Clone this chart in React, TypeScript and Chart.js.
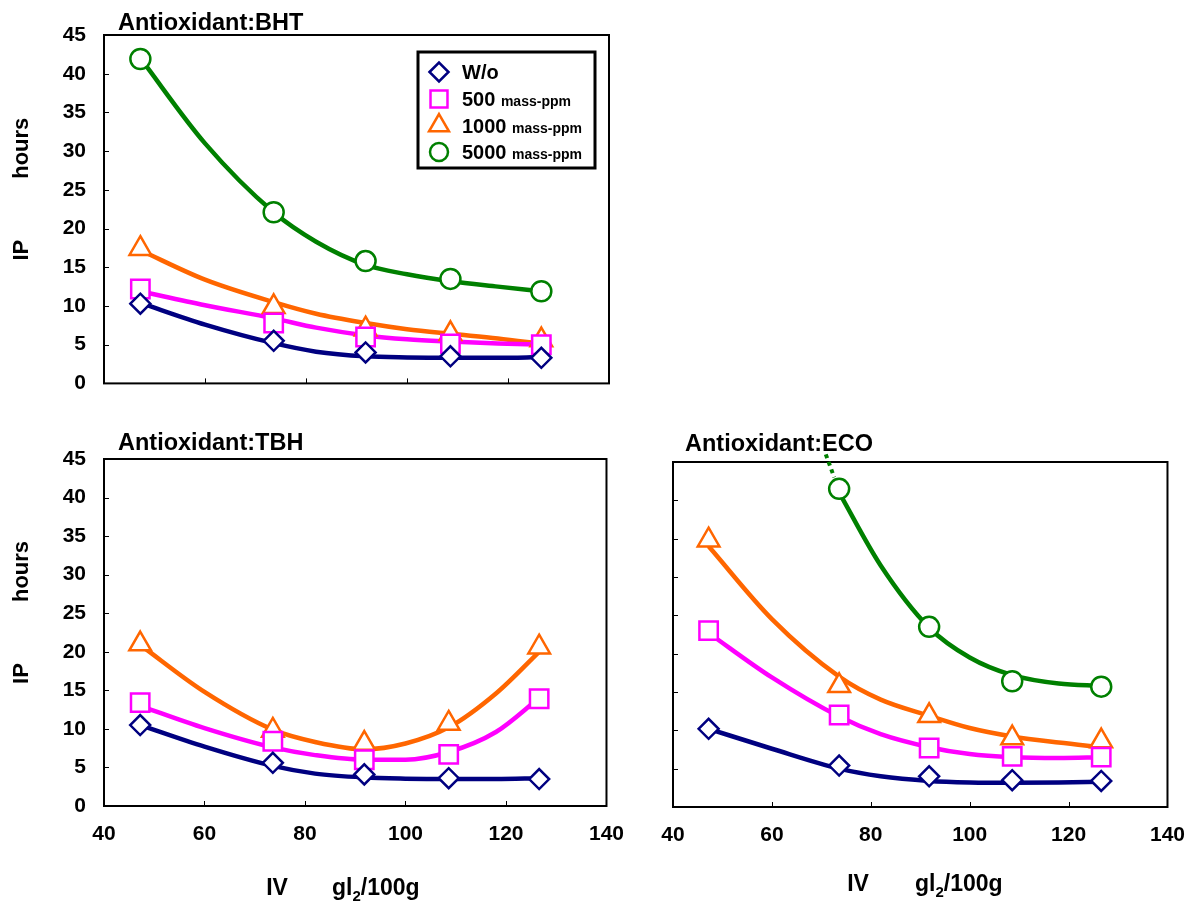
import React, { useEffect, useRef } from "react";
import { Chart, registerables } from "chart.js";
import { drawPoint } from "chart.js/helpers";

Chart.register(...registerables);

// ---------- data ----------
const IV = [47.2, 73.6, 91.8, 108.6, 126.6];
const fitX = [47.2, 60, 73.6, 82, 91.8, 100, 108.6, 118, 126.6];
const xTickValues = [40, 60, 80, 100, 120, 140];
const yTickValues = [0, 5, 10, 15, 20, 25, 30, 35, 40, 45];

const seriesNames = ["W/o", "500", "1000", "5000"];
const seriesUnits = ["", "mass-ppm", "mass-ppm", "mass-ppm"];

// BHT
const bhtWo = [10.3, 5.5, 4.0, 3.5, 3.3];
const bht500 = [12.2, 7.8, 6.0, 5.1, 5.0];
const bht1000 = [17.4, 9.9, 7.0, 6.4, 5.6];
const bht5000 = [41.9, 22.1, 15.8, 13.5, 11.9];
const bhtWoFit = [10.4, 7.6, 5.2, 4.1, 3.5, 3.35, 3.3, 3.3, 3.4];
const bht500Fit = [11.9, 10.1, 8.4, 7.2, 6.2, 5.7, 5.4, 5.15, 5.0];
const bht1000Fit = [17.2, 13.4, 10.5, 9.0, 7.8, 7.0, 6.4, 5.8, 5.1];
const bht5000Fit = [42.0, 31.0, 22.1, 18.3, 15.3, 14.1, 13.2, 12.5, 11.9];

// TBH
const tbhWo = [10.5, 5.6, 4.1, 3.6, 3.5];
const tbh500 = [13.4, 8.4, 6.0, 6.7, 13.9];
const tbh1000 = [21.0, 9.8, 8.1, 10.7, 20.6];
const tbhWoFit = [10.5, 7.7, 5.2, 4.2, 3.7, 3.55, 3.5, 3.5, 3.6];
const tbh500Fit = [13.0, 10.1, 7.6, 6.6, 6.0, 6.0, 7.0, 9.6, 14.0];
const tbh1000Fit = [20.9, 14.8, 9.9, 8.3, 7.35, 8.1, 10.2, 14.6, 20.0];

// ECO
const ecoWo = [10.2, 5.4, 4.0, 3.5, 3.4];
const eco500 = [23.0, 12.0, 7.7, 6.6, 6.5];
const eco1000 = [34.8, 15.8, 11.9, 9.0, 8.6];
const eco5000 = [null, 41.5, 23.5, 16.4, 15.7];
const ecoWoFit = [10.2, 7.6, 5.0, 4.0, 3.4, 3.2, 3.15, 3.2, 3.3];
const eco500Fit = [22.7, 16.9, 11.8, 9.5, 7.8, 6.9, 6.5, 6.4, 6.5];
const eco1000Fit = [34.0, 24.5, 17.0, 14.0, 11.9, 10.3, 9.2, 8.4, 7.8];
const eco5000Fit = [null, null, 41.0, 31.5, 23.4, 19.5, 17.2, 16.1, 15.8];
const ecoDottedX = [70.9, 72.6];
const ecoDottedY = [46.0, 43.0];

// ---------- styles ----------
const COLORS = ["#000080", "#ff00ff", "#ff6600", "#008000"];
const STYLES = ["rectRot", "rect", "triangle", "circle"];
const RADII = [10, 13, 12.5, 10];
const LEGEND_RADII = [9.5, 12, 11.5, 9];
const FONT = '"Liberation Sans", Arial, sans-serif';

type Panel = {
  key: string;
  title: string;
  left: number;
  top: number;
  width: number;
  height: number;
  padTop: number;
  axisLeft: number;
  axisBottom: number;
  padRight: number;
  markers: (number | null)[][];
  fits: (number | null)[][];
  yLabels: boolean;
  xLabels: boolean;
  yTitle: boolean;
  xTitle: { iv: number; gl: number; base: number } | null;
  titleX: number;
  titleBase: number;
  legend: boolean;
  dotted: boolean;
};

const panels: Panel[] = [
  {
    key: "bht",
    title: "Antioxidant:BHT",
    left: 0,
    top: 0,
    width: 640,
    height: 414,
    padTop: 35,
    axisLeft: 104,
    axisBottom: 17,
    padRight: 31,
    markers: [bhtWo, bht500, bht1000, bht5000],
    fits: [bhtWoFit, bht500Fit, bht1000Fit, bht5000Fit],
    yLabels: true,
    xLabels: false,
    yTitle: true,
    xTitle: null,
    titleX: 118,
    titleBase: 30,
    legend: true,
    dotted: false,
  },
  {
    key: "tbh",
    title: "Antioxidant:TBH",
    left: 0,
    top: 420,
    width: 640,
    height: 484,
    padTop: 39,
    axisLeft: 104,
    axisBottom: 98,
    padRight: 31,
    markers: [tbhWo, tbh500, tbh1000],
    fits: [tbhWoFit, tbh500Fit, tbh1000Fit],
    yLabels: true,
    xLabels: true,
    yTitle: true,
    xTitle: { iv: 277, gl: 332, base: 475 },
    titleX: 118,
    titleBase: 30,
    legend: false,
    dotted: false,
  },
  {
    key: "eco",
    title: "Antioxidant:ECO",
    left: 640,
    top: 420,
    width: 561,
    height: 484,
    padTop: 42,
    axisLeft: 33,
    axisBottom: 97,
    padRight: 26,
    markers: [ecoWo, eco500, eco1000, eco5000],
    fits: [ecoWoFit, eco500Fit, eco1000Fit, eco5000Fit],
    yLabels: false,
    xLabels: true,
    yTitle: false,
    xTitle: { iv: 218, gl: 275, base: 471 },
    titleX: 45,
    titleBase: 31,
    legend: false,
    dotted: true,
  },
];

function toPoints(xs: number[], ys: (number | null)[]) {
  const out: { x: number; y: number }[] = [];
  ys.forEach((y, i) => {
    if (y !== null && y !== undefined) out.push({ x: xs[i], y });
  });
  return out;
}

const decorPlugin = {
  id: "panelDecor",
  beforeDatasetsDraw(chart: any) {
    const ctx = chart.ctx;
    const a = chart.chartArea;
    const xs = chart.scales.x;
    const ys = chart.scales.y;
    ctx.save();
    ctx.strokeStyle = "#000";
    ctx.lineWidth = 2;
    ctx.strokeRect(a.left, a.top, a.right - a.left, a.bottom - a.top);
    ctx.lineWidth = 1;
    ctx.beginPath();
    xTickValues.slice(1, -1).forEach((v) => {
      const px = Math.round(xs.getPixelForValue(v)) + 0.5;
      ctx.moveTo(px, a.bottom);
      ctx.lineTo(px, a.bottom - 5);
    });
    yTickValues.slice(1, -1).forEach((v) => {
      const py = Math.round(ys.getPixelForValue(v)) + 0.5;
      ctx.moveTo(a.left, py);
      ctx.lineTo(a.left + 5, py);
    });
    ctx.stroke();
    ctx.restore();
  },
  afterDraw(chart: any, _args: any, opts: any) {
    const p: Panel = opts.panel;
    const ctx = chart.ctx;
    const a = chart.chartArea;
    ctx.save();
    ctx.fillStyle = "#000";
    // panel title
    ctx.font = `bold 23.5px ${FONT}`;
    ctx.textAlign = "left";
    ctx.textBaseline = "alphabetic";
    ctx.fillText(p.title, p.titleX, p.titleBase);

    // y title
    if (p.yTitle) {
      const mid = (a.top + a.bottom) / 2;
      ctx.font = `bold 22px ${FONT}`;
      ctx.textAlign = "center";
      ctx.textBaseline = "middle";
      const drawRot = (t: string, y: number) => {
        ctx.save();
        ctx.translate(22, y);
        ctx.rotate(-Math.PI / 2);
        ctx.fillText(t, 0, 0);
        ctx.restore();
      };
      drawRot("hours", mid - 61);
      drawRot("IP", mid + 41);
    }

    // x title
    if (p.xTitle) {
      const t = p.xTitle;
      ctx.textBaseline = "alphabetic";
      ctx.font = `bold 23px ${FONT}`;
      ctx.textAlign = "center";
      ctx.fillText("IV", t.iv, t.base);
      ctx.textAlign = "left";
      let x = t.gl;
      ctx.fillText("gl", x, t.base);
      x += ctx.measureText("gl").width;
      ctx.font = `bold 15px ${FONT}`;
      ctx.fillText("2", x, t.base + 6);
      x += ctx.measureText("2").width;
      ctx.font = `bold 23px ${FONT}`;
      ctx.fillText("/100g", x, t.base);
    }

    // legend
    if (p.legend) {
      const bx = 418, by = 52, bw = 177, bh = 116;
      ctx.fillStyle = "#fff";
      ctx.fillRect(bx, by, bw, bh);
      ctx.strokeStyle = "#000";
      ctx.lineWidth = 3;
      ctx.strokeRect(bx, by, bw, bh);
      const rows = [72, 99, 125.5, 152];
      seriesNames.forEach((name, i) => {
        const y = rows[i];
        ctx.strokeStyle = COLORS[i];
        ctx.fillStyle = "#fff";
        ctx.lineWidth = 2.5;
        drawPoint(ctx, { pointStyle: STYLES[i] as any, radius: LEGEND_RADII[i], rotation: 0, borderWidth: 2.5 } as any, 439, y);
        ctx.fillStyle = "#000";
        ctx.textAlign = "left";
        ctx.textBaseline = "alphabetic";
        ctx.font = `bold 20px ${FONT}`;
        ctx.fillText(name, 462, y + 7);
        if (seriesUnits[i]) {
          const w = ctx.measureText(name + " ").width;
          ctx.font = `bold 14px ${FONT}`;
          ctx.fillText(seriesUnits[i], 462 + w, y + 7);
        }
      });
    }
    ctx.restore();
  },
};

function PanelChart({ panel }: { panel: Panel }) {
  const ref = useRef<HTMLCanvasElement | null>(null);
  useEffect(() => {
    if (!ref.current) return;
    const p = panel;
    const datasets: any[] = [];
    p.fits.forEach((f, i) => {
      datasets.push({
        label: seriesNames[i] + " fit",
        data: toPoints(fitX, f),
        borderColor: COLORS[i],
        backgroundColor: COLORS[i],
        borderWidth: 4.5,
        pointRadius: 0,
        cubicInterpolationMode: "monotone",
        fill: false,
        order: 2,
      });
    });
    if (p.dotted) {
      datasets.push({
        label: "5000 extension",
        data: toPoints(ecoDottedX, ecoDottedY),
        borderColor: COLORS[3],
        borderWidth: 4,
        borderDash: [4, 4],
        pointRadius: 0,
        fill: false,
        clip: false,
        order: 2,
      });
    }
    p.markers.forEach((m, i) => {
      datasets.push({
        label: seriesNames[i],
        data: toPoints(IV, m),
        showLine: false,
        pointStyle: STYLES[i],
        pointRadius: RADII[i],
        pointBackgroundColor: "#ffffff",
        pointBorderColor: COLORS[i],
        pointBorderWidth: 2.5,
        borderColor: COLORS[i],
        backgroundColor: "#ffffff",
        order: 1,
      });
    });
    const tickFont = { family: FONT, size: 21, weight: "bold" as const };
    const chart = new Chart(ref.current, {
      type: "line",
      data: { datasets },
      plugins: [decorPlugin as any],
      options: {
        animation: false,
        responsive: false,
        devicePixelRatio: 1,
        events: [],
        layout: {
          autoPadding: false,
          padding: { left: 0, top: p.padTop, right: p.padRight, bottom: 0 },
        },
        plugins: {
          legend: { display: false },
          tooltip: { enabled: false },
          title: { display: false },
          panelDecor: { panel: p },
        } as any,
        scales: {
          x: {
            type: "linear",
            min: 40,
            max: 140,
            grid: { display: false, drawTicks: false },
            border: { display: false },
            ticks: {
              display: p.xLabels,
              stepSize: 20,
              padding: 16,
              color: "#000",
              font: tickFont,
              maxRotation: 0,
            },
            afterFit: (s: any) => {
              s.height = p.axisBottom;
            },
          },
          y: {
            type: "linear",
            min: 0,
            max: 45,
            grid: { display: false, drawTicks: false },
            border: { display: false },
            ticks: {
              display: p.yLabels,
              stepSize: 5,
              padding: 18,
              color: "#000",
              font: tickFont,
            },
            afterFit: (s: any) => {
              s.width = p.axisLeft;
            },
          },
        },
      },
    });
    return () => chart.destroy();
  }, [panel]);
  return (
    <canvas
      ref={ref}
      width={panel.width}
      height={panel.height}
      style={{
        position: "absolute",
        left: panel.left,
        top: panel.top,
        width: panel.width,
        height: panel.height,
      }}
    />
  );
}

export default function App() {
  return (
    <div>
      {panels.map((p) => (
        <PanelChart key={p.key} panel={p} />
      ))}
    </div>
  );
}
